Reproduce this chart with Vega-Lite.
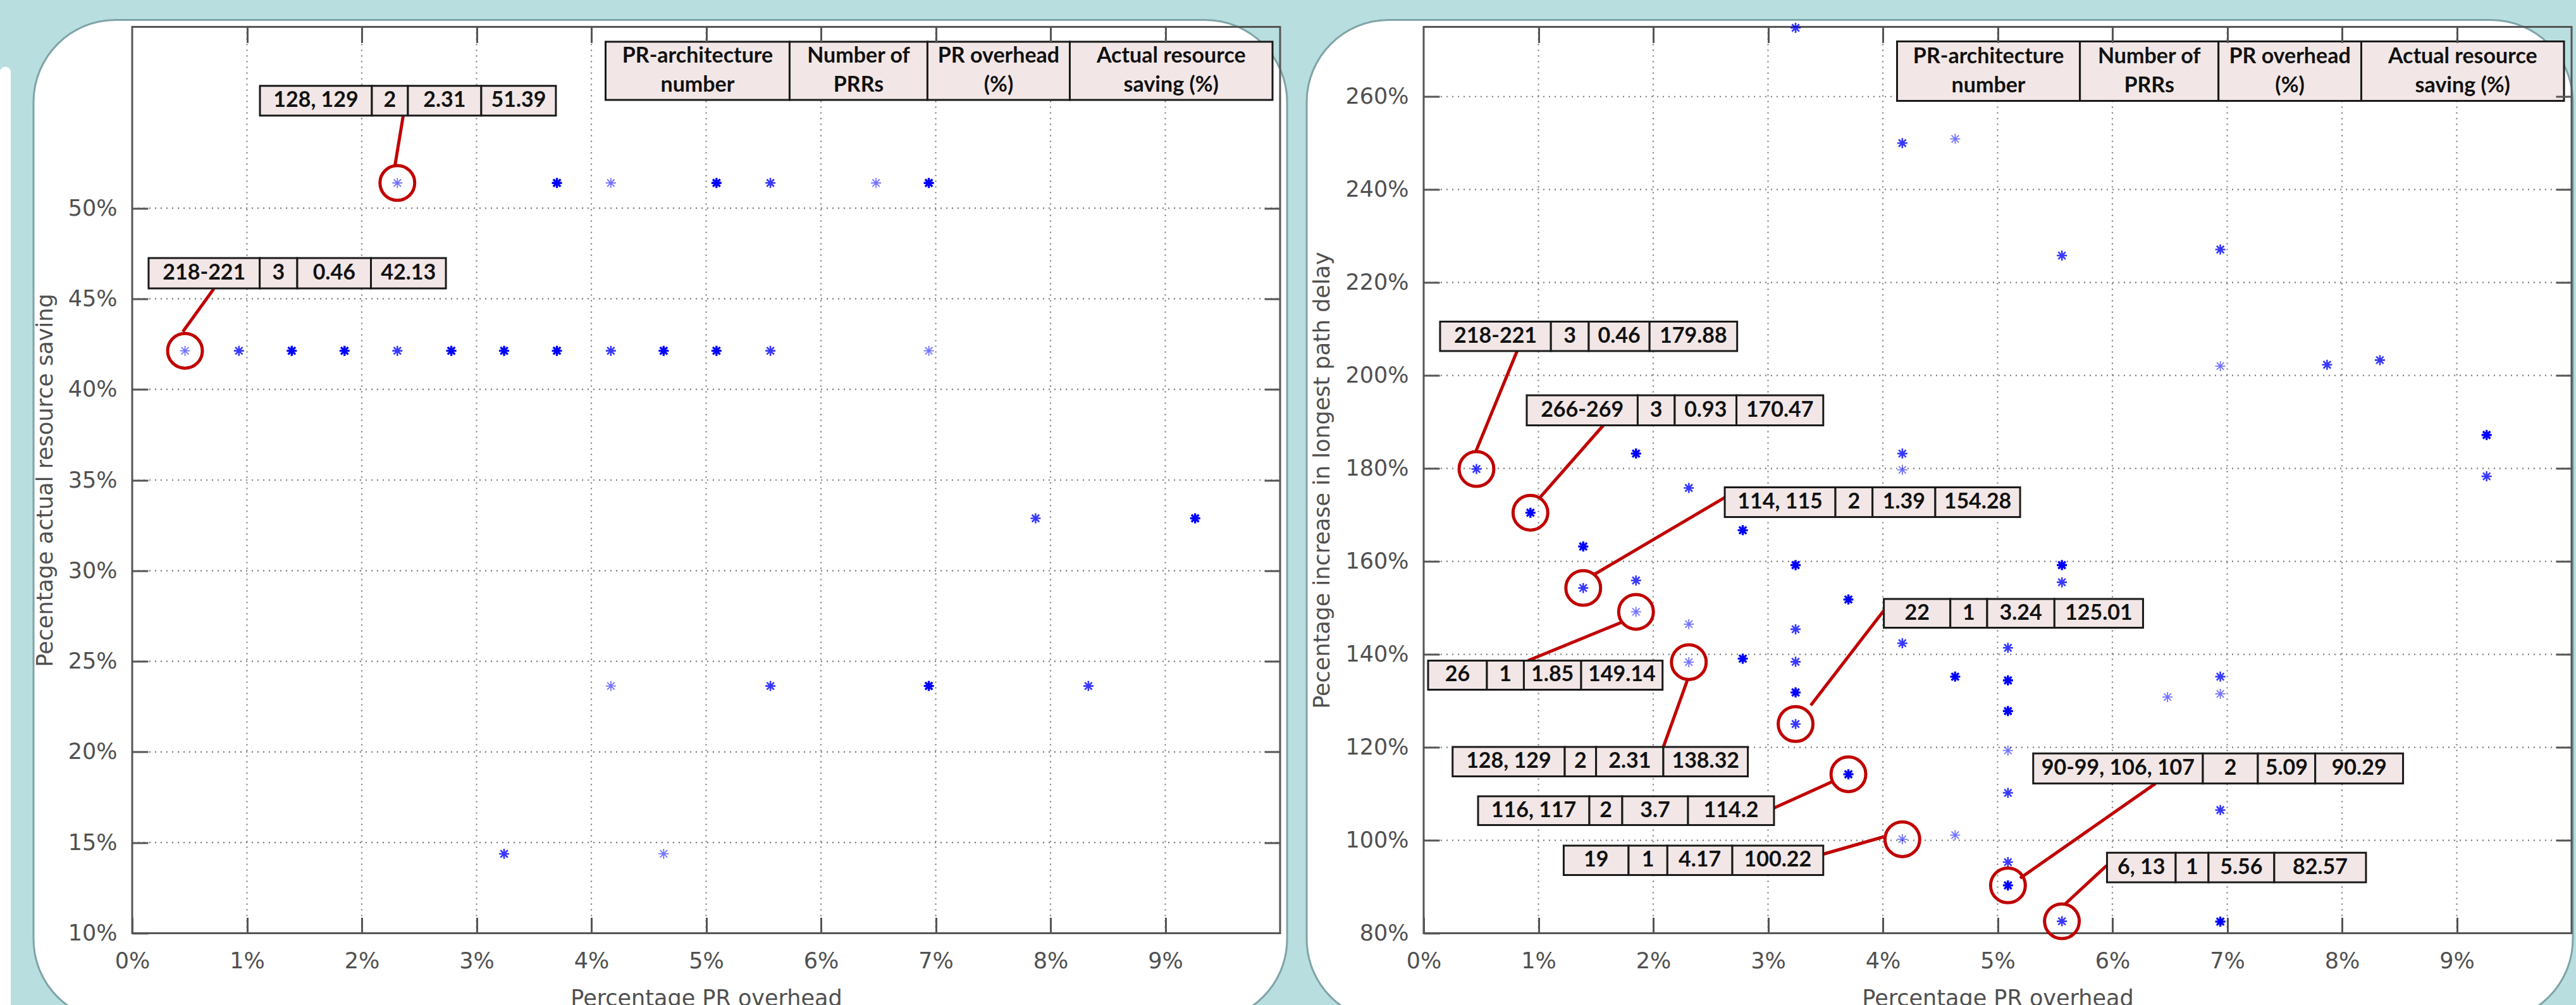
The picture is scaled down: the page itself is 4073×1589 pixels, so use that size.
{
  "$schema": "https://vega.github.io/schema/vega-lite/v6.json",
  "background": "#b9dee0",
  "padding": {"left": 0, "top": 29.5, "right": 10, "bottom": 0},
  "bounds": "flush",
  "spacing": 227,
  "config": {
    "view": {"stroke": null},
    "axis": {
      "grid": false, "domain": false, "labelFlush": false, "labelOverlap": false,
      "labelFont": "DejaVu Sans", "labelFontSize": 35, "labelColor": "#505050",
      "titleFont": "DejaVu Sans", "titleFontSize": 35, "titleFontWeight": "normal", "titleColor": "#505050",
      "tickSize": -25, "tickWidth": 3, "tickColor": "#555555"
    },
    "axisBottom": {"labelPadding": 52, "titlePadding": 24},
    "axisLeft": {"labelPadding": 49, "titlePadding": 18},
    "axisTop": {"labelPadding": 0},
    "axisRight": {"labelPadding": 0}
  },
  "datasets": {
    "leftPts": [
      {"x": 2.31, "y": 51.39, "n": 1}, {"x": 3.70, "y": 51.39, "n": 3}, {"x": 4.17, "y": 51.39, "n": 1},
      {"x": 5.09, "y": 51.39, "n": 3}, {"x": 5.56, "y": 51.39, "n": 2}, {"x": 6.48, "y": 51.39, "n": 1},
      {"x": 6.94, "y": 51.39, "n": 3},
      {"x": 0.46, "y": 42.13, "n": 1}, {"x": 0.93, "y": 42.13, "n": 2}, {"x": 1.39, "y": 42.13, "n": 3},
      {"x": 1.85, "y": 42.13, "n": 3}, {"x": 2.31, "y": 42.13, "n": 2}, {"x": 2.78, "y": 42.13, "n": 3},
      {"x": 3.24, "y": 42.13, "n": 3}, {"x": 3.70, "y": 42.13, "n": 3}, {"x": 4.17, "y": 42.13, "n": 2},
      {"x": 4.63, "y": 42.13, "n": 3}, {"x": 5.09, "y": 42.13, "n": 3}, {"x": 5.56, "y": 42.13, "n": 2},
      {"x": 6.94, "y": 42.13, "n": 1},
      {"x": 7.87, "y": 32.89, "n": 2}, {"x": 9.26, "y": 32.89, "n": 3},
      {"x": 4.17, "y": 23.64, "n": 1}, {"x": 5.56, "y": 23.64, "n": 2}, {"x": 6.94, "y": 23.64, "n": 3},
      {"x": 8.33, "y": 23.64, "n": 2},
      {"x": 3.24, "y": 14.38, "n": 2}, {"x": 4.63, "y": 14.38, "n": 1}
    ],
    "rightPts": [
      {"x": 3.24, "y": 274.8, "n": 2}, {"x": 4.17, "y": 250.0, "n": 2}, {"x": 4.63, "y": 250.9, "n": 1},
      {"x": 5.56, "y": 225.8, "n": 2}, {"x": 6.94, "y": 227.1, "n": 2}, {"x": 6.94, "y": 202.0, "n": 1},
      {"x": 7.87, "y": 202.3, "n": 2}, {"x": 8.33, "y": 203.3, "n": 2}, {"x": 9.26, "y": 187.2, "n": 3},
      {"x": 9.26, "y": 178.3, "n": 2}, {"x": 0.46, "y": 179.88, "n": 2}, {"x": 0.93, "y": 170.47, "n": 3},
      {"x": 1.85, "y": 183.2, "n": 3}, {"x": 2.31, "y": 175.8, "n": 2}, {"x": 1.39, "y": 163.2, "n": 3},
      {"x": 1.39, "y": 154.28, "n": 2}, {"x": 2.78, "y": 166.7, "n": 3}, {"x": 3.24, "y": 159.2, "n": 3},
      {"x": 1.85, "y": 155.9, "n": 2}, {"x": 1.85, "y": 149.14, "n": 1}, {"x": 2.31, "y": 146.5, "n": 1},
      {"x": 2.31, "y": 138.32, "n": 1}, {"x": 2.78, "y": 139.07, "n": 3}, {"x": 3.24, "y": 145.4, "n": 2},
      {"x": 3.24, "y": 138.4, "n": 2}, {"x": 3.24, "y": 131.8, "n": 3}, {"x": 3.24, "y": 125.01, "n": 2},
      {"x": 3.70, "y": 151.8, "n": 3}, {"x": 3.70, "y": 114.2, "n": 3}, {"x": 4.17, "y": 183.2, "n": 2},
      {"x": 4.17, "y": 179.7, "n": 1}, {"x": 4.17, "y": 142.4, "n": 2}, {"x": 4.17, "y": 100.22, "n": 1},
      {"x": 4.63, "y": 135.2, "n": 3}, {"x": 4.63, "y": 101.1, "n": 1}, {"x": 5.56, "y": 159.2, "n": 3},
      {"x": 5.56, "y": 155.5, "n": 2}, {"x": 5.56, "y": 82.57, "n": 2}, {"x": 5.09, "y": 141.4, "n": 2},
      {"x": 5.09, "y": 134.4, "n": 3}, {"x": 5.09, "y": 127.8, "n": 3}, {"x": 5.09, "y": 119.3, "n": 1},
      {"x": 5.09, "y": 110.2, "n": 2}, {"x": 5.09, "y": 95.3, "n": 2}, {"x": 5.09, "y": 90.29, "n": 3},
      {"x": 6.48, "y": 130.8, "n": 1}, {"x": 6.94, "y": 135.2, "n": 2}, {"x": 6.94, "y": 131.5, "n": 1},
      {"x": 6.94, "y": 106.5, "n": 2}, {"x": 6.94, "y": 82.5, "n": 3}
    ],
    "leftCallouts": [
      {"x": 2.31, "y": 51.39, "ax": 2.361, "ay": 55.10, "bx": 2.289, "by": 52.34},
      {"x": 0.46, "y": 42.13, "ax": 0.711, "ay": 45.55, "bx": 0.441, "by": 43.18}
    ],
    "rightCallouts": [
      {"x": 0.46, "y": 179.88, "ax": 0.815, "ay": 205.32, "bx": 0.452, "by": 183.5},
      {"x": 0.93, "y": 170.47, "ax": 1.565, "ay": 189.27, "bx": 1.0165, "by": 173.84},
      {"x": 1.39, "y": 154.28, "ax": 2.623, "ay": 173.75, "bx": 1.493, "by": 157.29},
      {"x": 1.85, "y": 149.14, "ax": 0.909, "ay": 138.65, "bx": 1.730, "by": 146.95},
      {"x": 2.31, "y": 138.32, "ax": 2.088, "ay": 120.06, "bx": 2.303, "by": 134.84},
      {"x": 3.24, "y": 125.01, "ax": 4.009, "ay": 149.44, "bx": 3.372, "by": 129.03},
      {"x": 3.70, "y": 114.2, "ax": 3.052, "ay": 106.94, "bx": 3.5526, "by": 112.52},
      {"x": 4.17, "y": 100.22, "ax": 3.481, "ay": 97.01, "bx": 4.009, "by": 100.75},
      {"x": 5.09, "y": 90.29, "ax": 6.375, "ay": 112.20, "bx": 5.196, "by": 91.84},
      {"x": 5.56, "y": 82.57, "ax": 5.950, "ay": 94.56, "bx": 5.587, "by": 86.26}
    ],
    "leftCells": [
      {"t": "PR-architecture\nnumber", "x0": 4.124, "x1": 5.727, "y0": 59.18, "y1": 55.97, "xm": 4.9255, "ym": 57.575},
      {"t": "Number of\nPRRs", "x0": 5.727, "x1": 6.928, "y0": 59.18, "y1": 55.97, "xm": 6.3275, "ym": 57.575},
      {"t": "PR overhead\n(%)", "x0": 6.928, "x1": 8.168, "y0": 59.18, "y1": 55.97, "xm": 7.548, "ym": 57.575},
      {"t": "Actual resource\nsaving (%)", "x0": 8.168, "x1": 9.934, "y0": 59.18, "y1": 55.97, "xm": 9.051, "ym": 57.575},
      {"t": "128, 129", "x0": 1.113, "x1": 2.088, "y0": 56.75, "y1": 55.11, "xm": 1.6005, "ym": 55.93},
      {"t": "2", "x0": 2.088, "x1": 2.402, "y0": 56.75, "y1": 55.11, "xm": 2.245, "ym": 55.93},
      {"t": "2.31", "x0": 2.402, "x1": 3.041, "y0": 56.75, "y1": 55.11, "xm": 2.7215, "ym": 55.93},
      {"t": "51.39", "x0": 3.041, "x1": 3.691, "y0": 56.75, "y1": 55.11, "xm": 3.366, "ym": 55.93},
      {"t": "218-221", "x0": 0.143, "x1": 1.111, "y0": 47.25, "y1": 45.57, "xm": 0.627, "ym": 46.41},
      {"t": "3", "x0": 1.111, "x1": 1.438, "y0": 47.25, "y1": 45.57, "xm": 1.2745, "ym": 46.41},
      {"t": "0.46", "x0": 1.438, "x1": 2.080, "y0": 47.25, "y1": 45.57, "xm": 1.759, "ym": 46.41},
      {"t": "42.13", "x0": 2.080, "x1": 2.733, "y0": 47.25, "y1": 45.57, "xm": 2.4065, "ym": 46.41}
    ],
    "rightCells": [
      {"t": "PR-architecture\nnumber", "x0": 4.124, "x1": 5.717, "y0": 271.86, "y1": 259.07, "xm": 4.9205, "ym": 265.465},
      {"t": "Number of\nPRRs", "x0": 5.717, "x1": 6.924, "y0": 271.86, "y1": 259.07, "xm": 6.3205, "ym": 265.465},
      {"t": "PR overhead\n(%)", "x0": 6.924, "x1": 8.168, "y0": 271.86, "y1": 259.07, "xm": 7.546, "ym": 265.465},
      {"t": "Actual resource\nsaving (%)", "x0": 8.168, "x1": 9.934, "y0": 271.86, "y1": 259.07, "xm": 9.051, "ym": 265.465},
      {"t": "218-221", "x0": 0.143, "x1": 1.1085, "y0": 211.58, "y1": 205.26, "xm": 0.6258, "ym": 208.42},
      {"t": "3", "x0": 1.1085, "x1": 1.438, "y0": 211.58, "y1": 205.26, "xm": 1.2733, "ym": 208.42},
      {"t": "0.46", "x0": 1.438, "x1": 1.968, "y0": 211.58, "y1": 205.26, "xm": 1.703, "ym": 208.42},
      {"t": "179.88", "x0": 1.968, "x1": 2.731, "y0": 211.58, "y1": 205.26, "xm": 2.3495, "ym": 208.42},
      {"t": "266-269", "x0": 0.898, "x1": 1.8645, "y0": 195.73, "y1": 189.27, "xm": 1.381, "ym": 192.5},
      {"t": "3", "x0": 1.8645, "x1": 2.187, "y0": 195.73, "y1": 189.27, "xm": 2.026, "ym": 192.5},
      {"t": "0.93", "x0": 2.187, "x1": 2.725, "y0": 195.73, "y1": 189.27, "xm": 2.456, "ym": 192.5},
      {"t": "170.47", "x0": 2.725, "x1": 3.481, "y0": 195.73, "y1": 189.27, "xm": 3.103, "ym": 192.5},
      {"t": "114, 115", "x0": 2.623, "x1": 3.587, "y0": 175.93, "y1": 169.54, "xm": 3.105, "ym": 172.735},
      {"t": "2", "x0": 3.587, "x1": 3.910, "y0": 175.93, "y1": 169.54, "xm": 3.7485, "ym": 172.735},
      {"t": "1.39", "x0": 3.910, "x1": 4.457, "y0": 175.93, "y1": 169.54, "xm": 4.1835, "ym": 172.735},
      {"t": "154.28", "x0": 4.457, "x1": 5.196, "y0": 175.93, "y1": 169.54, "xm": 4.8265, "ym": 172.735},
      {"t": "26", "x0": 0.0386, "x1": 0.551, "y0": 138.65, "y1": 132.39, "xm": 0.2948, "ym": 135.52},
      {"t": "1", "x0": 0.551, "x1": 0.873, "y0": 138.65, "y1": 132.39, "xm": 0.712, "ym": 135.52},
      {"t": "1.85", "x0": 0.873, "x1": 1.372, "y0": 138.65, "y1": 132.39, "xm": 1.1225, "ym": 135.52},
      {"t": "149.14", "x0": 1.372, "x1": 2.081, "y0": 138.65, "y1": 132.39, "xm": 1.7265, "ym": 135.52},
      {"t": "128, 129", "x0": 0.252, "x1": 1.229, "y0": 120.06, "y1": 113.75, "xm": 0.7405, "ym": 116.905},
      {"t": "2", "x0": 1.229, "x1": 1.502, "y0": 120.06, "y1": 113.75, "xm": 1.3655, "ym": 116.905},
      {"t": "2.31", "x0": 1.502, "x1": 2.088, "y0": 120.06, "y1": 113.75, "xm": 1.795, "ym": 116.905},
      {"t": "138.32", "x0": 2.088, "x1": 2.824, "y0": 120.06, "y1": 113.75, "xm": 2.456, "ym": 116.905},
      {"t": "22", "x0": 4.009, "x1": 4.588, "y0": 151.92, "y1": 145.72, "xm": 4.2985, "ym": 148.82},
      {"t": "1", "x0": 4.588, "x1": 4.909, "y0": 151.92, "y1": 145.72, "xm": 4.7485, "ym": 148.82},
      {"t": "3.24", "x0": 4.909, "x1": 5.495, "y0": 151.92, "y1": 145.72, "xm": 5.202, "ym": 148.82},
      {"t": "125.01", "x0": 5.495, "x1": 6.267, "y0": 151.92, "y1": 145.72, "xm": 5.881, "ym": 148.82},
      {"t": "116, 117", "x0": 0.474, "x1": 1.4435, "y0": 109.45, "y1": 103.27, "xm": 0.9588, "ym": 106.36},
      {"t": "2", "x0": 1.4435, "x1": 1.730, "y0": 109.45, "y1": 103.27, "xm": 1.5868, "ym": 106.36},
      {"t": "3.7", "x0": 1.730, "x1": 2.303, "y0": 109.45, "y1": 103.27, "xm": 2.0165, "ym": 106.36},
      {"t": "114.2", "x0": 2.303, "x1": 3.052, "y0": 109.45, "y1": 103.27, "xm": 2.6775, "ym": 106.36},
      {"t": "19", "x0": 1.220, "x1": 1.785, "y0": 98.85, "y1": 92.52, "xm": 1.5025, "ym": 95.685},
      {"t": "1", "x0": 1.785, "x1": 2.123, "y0": 98.85, "y1": 92.52, "xm": 1.954, "ym": 95.685},
      {"t": "4.17", "x0": 2.123, "x1": 2.689, "y0": 98.85, "y1": 92.52, "xm": 2.406, "ym": 95.685},
      {"t": "100.22", "x0": 2.689, "x1": 3.481, "y0": 98.85, "y1": 92.52, "xm": 3.085, "ym": 95.685},
      {"t": "90-99, 106, 107", "x0": 5.310, "x1": 6.788, "y0": 118.69, "y1": 112.20, "xm": 6.049, "ym": 115.445},
      {"t": "2", "x0": 6.788, "x1": 7.267, "y0": 118.69, "y1": 112.20, "xm": 7.0275, "ym": 115.445},
      {"t": "5.09", "x0": 7.267, "x1": 7.767, "y0": 118.69, "y1": 112.20, "xm": 7.517, "ym": 115.445},
      {"t": "90.29", "x0": 7.767, "x1": 8.532, "y0": 118.69, "y1": 112.20, "xm": 8.1495, "ym": 115.445},
      {"t": "6, 13", "x0": 5.953, "x1": 6.551, "y0": 97.31, "y1": 90.97, "xm": 6.252, "ym": 94.14},
      {"t": "1", "x0": 6.551, "x1": 6.837, "y0": 97.31, "y1": 90.97, "xm": 6.694, "ym": 94.14},
      {"t": "5.56", "x0": 6.837, "x1": 7.410, "y0": 97.31, "y1": 90.97, "xm": 7.1235, "ym": 94.14},
      {"t": "82.57", "x0": 7.410, "x1": 8.209, "y0": 97.31, "y1": 90.97, "xm": 7.8095, "ym": 94.14}
    ]
  },
  "hconcat": [
    {
      "width": 1815,
      "height": 1433,
      "resolve": {"axis": {"x": "independent", "y": "independent"}},
      "layer": [
        {
          "data": {"values": [{"part": "sliver"}]},
          "mark": {"type": "rect", "fill": "#ffffff", "cornerRadius": 10},
          "encoding": {
            "x": {"datum": -1.1515, "type": "quantitative", "scale": {"domain": [0, 10], "nice": false, "zero": false}, "axis": null},
            "x2": {"datum": -1.058},
            "y": {"datum": 57.8, "type": "quantitative", "scale": {"domain": [10, 60], "nice": false, "zero": false}, "axis": null},
            "y2": {"datum": 5.15}
          }
        },
        {
          "data": {"values": [{"part": "panel"}]},
          "mark": {"type": "rect", "fill": "#ffffff", "stroke": "#7fa4a8", "strokeWidth": 3, "cornerRadius": 130},
          "encoding": {
            "x": {"datum": -0.8595, "type": "quantitative", "scale": {"domain": [0, 10], "nice": false, "zero": false}, "axis": null},
            "x2": {"datum": 10.061},
            "y": {"datum": 60.384, "type": "quantitative", "scale": {"domain": [10, 60], "nice": false, "zero": false}, "axis": null},
            "y2": {"datum": 5.15}
          }
        },
        {
          "data": {"values": [{"g": 1}, {"g": 2}, {"g": 3}, {"g": 4}, {"g": 5}, {"g": 6}, {"g": 7}, {"g": 8}, {"g": 9}]},
          "mark": {"type": "rule", "stroke": "#7a7a7a", "strokeWidth": 2.2, "strokeDash": [2, 7]},
          "encoding": {
            "x": {"field": "g", "type": "quantitative", "scale": {"domain": [0, 10], "nice": false, "zero": false}, "axis": null},
            "y": {"datum": 10, "type": "quantitative", "scale": {"domain": [10, 60], "nice": false, "zero": false}, "axis": null},
            "y2": {"datum": 60}
          }
        },
        {
          "data": {"values": [{"g": 15}, {"g": 20}, {"g": 25}, {"g": 30}, {"g": 35}, {"g": 40}, {"g": 45}, {"g": 50}]},
          "mark": {"type": "rule", "stroke": "#7a7a7a", "strokeWidth": 2.2, "strokeDash": [2, 7]},
          "encoding": {
            "y": {"field": "g", "type": "quantitative", "scale": {"domain": [10, 60], "nice": false, "zero": false}, "axis": null},
            "x": {"datum": 0, "type": "quantitative", "scale": {"domain": [0, 10], "nice": false, "zero": false}, "axis": null},
            "x2": {"datum": 10}
          }
        },
        {
          "data": {"values": [{"part": "frame"}]},
          "mark": {"type": "rect", "fillOpacity": 0, "stroke": "#555555", "strokeWidth": 3},
          "encoding": {
            "x": {"datum": 0, "type": "quantitative", "scale": {"domain": [0, 10], "nice": false, "zero": false},
                  "axis": {"orient": "top", "zindex": 2, "values": [1, 2, 3, 4, 5, 6, 7, 8, 9], "labels": false, "title": null}},
            "x2": {"datum": 10},
            "y": {"datum": 10, "type": "quantitative", "scale": {"domain": [10, 60], "nice": false, "zero": false},
                  "axis": {"orient": "right", "zindex": 2, "values": [15, 20, 25, 30, 35, 40, 45, 50], "labels": false, "title": null}},
            "y2": {"datum": 60}
          }
        },
        {
          "data": {"name": "leftPts"},
          "mark": {"type": "point", "shape": "M-1,0L1,0M0,-1L0,1M-0.72,-0.72L0.72,0.72M-0.72,0.72L0.72,-0.72", "size": 256, "filled": false, "color": "#0000ff"},
          "encoding": {
            "x": {"field": "x", "type": "quantitative", "scale": {"domain": [0, 10], "nice": false, "zero": false},
                  "axis": {"orient": "bottom", "zindex": 2, "values": [0, 1, 2, 3, 4, 5, 6, 7, 8, 9], "labelExpr": "datum.value + '%'", "title": "Percentage PR overhead"}},
            "y": {"field": "y", "type": "quantitative", "scale": {"domain": [10, 60], "nice": false, "zero": false},
                  "axis": {"orient": "left", "zindex": 2, "values": [10, 15, 20, 25, 30, 35, 40, 45, 50], "labelExpr": "datum.value + '%'", "title": "Pecentage actual resource saving"}},
            "strokeWidth": {"field": "n", "type": "quantitative", "scale": {"domain": [1, 3], "range": [1.8, 3.4]}, "legend": null},
            "opacity": {"field": "n", "type": "quantitative", "scale": {"domain": [1, 3], "range": [0.55, 1]}, "legend": null}
          }
        },
        {
          "data": {"name": "leftCallouts"},
          "mark": {"type": "rule", "stroke": "#c00000", "strokeWidth": 5},
          "encoding": {
            "x": {"field": "ax", "type": "quantitative", "scale": {"domain": [0, 10], "nice": false, "zero": false}, "axis": null},
            "y": {"field": "ay", "type": "quantitative", "scale": {"domain": [10, 60], "nice": false, "zero": false}, "axis": null},
            "x2": {"field": "bx"},
            "y2": {"field": "by"}
          }
        },
        {
          "data": {"name": "leftCallouts"},
          "mark": {"type": "point", "shape": "circle", "size": 3019, "filled": false, "stroke": "#c00000", "strokeWidth": 5, "opacity": 1},
          "encoding": {
            "x": {"field": "x", "type": "quantitative", "scale": {"domain": [0, 10], "nice": false, "zero": false}, "axis": null},
            "y": {"field": "y", "type": "quantitative", "scale": {"domain": [10, 60], "nice": false, "zero": false}, "axis": null}
          }
        },
        {
          "data": {"name": "leftCells"},
          "mark": {"type": "rect", "fill": "#f2e7e6", "stroke": "#1a1a1a", "strokeWidth": 3},
          "encoding": {
            "x": {"field": "x0", "type": "quantitative", "scale": {"domain": [0, 10], "nice": false, "zero": false}, "axis": null},
            "x2": {"field": "x1"},
            "y": {"field": "y0", "type": "quantitative", "scale": {"domain": [10, 60], "nice": false, "zero": false}, "axis": null},
            "y2": {"field": "y1"}
          }
        },
        {
          "data": {"name": "leftCells"},
          "transform": [{"filter": "indexof(datum.t, '\\n') < 0"}],
          "mark": {"type": "text", "font": "Lato", "fontWeight": "bold", "fontSize": 34, "color": "#111111", "align": "center", "baseline": "middle"},
          "encoding": {
            "x": {"field": "xm", "type": "quantitative", "scale": {"domain": [0, 10], "nice": false, "zero": false}, "axis": null},
            "y": {"field": "ym", "type": "quantitative", "scale": {"domain": [10, 60], "nice": false, "zero": false}, "axis": null},
            "text": {"field": "t", "type": "nominal"}
          }
        },
        {
          "data": {"name": "leftCells"},
          "transform": [{"filter": "indexof(datum.t, '\\n') >= 0"}],
          "mark": {"type": "text", "font": "Lato", "fontWeight": "bold", "fontSize": 34, "color": "#111111", "align": "center", "baseline": "middle", "lineBreak": "\n", "lineHeight": 46, "dy": -23},
          "encoding": {
            "x": {"field": "xm", "type": "quantitative", "scale": {"domain": [0, 10], "nice": false, "zero": false}, "axis": null},
            "y": {"field": "ym", "type": "quantitative", "scale": {"domain": [10, 60], "nice": false, "zero": false}, "axis": null},
            "text": {"field": "t", "type": "nominal"}
          }
        }
      ]
    },
    {
      "width": 1815,
      "height": 1433,
      "resolve": {"axis": {"x": "independent", "y": "independent"}},
      "layer": [
        {
          "data": {"values": [{"part": "panel"}]},
          "mark": {"type": "rect", "fill": "#ffffff", "stroke": "#7fa4a8", "strokeWidth": 3, "cornerRadius": 130},
          "encoding": {
            "x": {"datum": -1.019, "type": "quantitative", "scale": {"domain": [0, 10], "nice": false, "zero": false}, "axis": null},
            "x2": {"datum": 10.011},
            "y": {"datum": 276.5, "type": "quantitative", "scale": {"domain": [80, 275], "nice": false, "zero": false}, "axis": null},
            "y2": {"datum": 61.09}
          }
        },
        {
          "data": {"values": [{"g": 1}, {"g": 2}, {"g": 3}, {"g": 4}, {"g": 5}, {"g": 6}, {"g": 7}, {"g": 8}, {"g": 9}]},
          "mark": {"type": "rule", "stroke": "#7a7a7a", "strokeWidth": 2.2, "strokeDash": [2, 7]},
          "encoding": {
            "x": {"field": "g", "type": "quantitative", "scale": {"domain": [0, 10], "nice": false, "zero": false}, "axis": null},
            "y": {"datum": 80, "type": "quantitative", "scale": {"domain": [80, 275], "nice": false, "zero": false}, "axis": null},
            "y2": {"datum": 275}
          }
        },
        {
          "data": {"values": [{"g": 100}, {"g": 120}, {"g": 140}, {"g": 160}, {"g": 180}, {"g": 200}, {"g": 220}, {"g": 240}, {"g": 260}]},
          "mark": {"type": "rule", "stroke": "#7a7a7a", "strokeWidth": 2.2, "strokeDash": [2, 7]},
          "encoding": {
            "y": {"field": "g", "type": "quantitative", "scale": {"domain": [80, 275], "nice": false, "zero": false}, "axis": null},
            "x": {"datum": 0, "type": "quantitative", "scale": {"domain": [0, 10], "nice": false, "zero": false}, "axis": null},
            "x2": {"datum": 10}
          }
        },
        {
          "data": {"values": [{"part": "frame"}]},
          "mark": {"type": "rect", "fillOpacity": 0, "stroke": "#555555", "strokeWidth": 3},
          "encoding": {
            "x": {"datum": 0, "type": "quantitative", "scale": {"domain": [0, 10], "nice": false, "zero": false},
                  "axis": {"orient": "top", "zindex": 2, "values": [1, 2, 3, 4, 5, 6, 7, 8, 9], "labels": false, "title": null}},
            "x2": {"datum": 10},
            "y": {"datum": 80, "type": "quantitative", "scale": {"domain": [80, 275], "nice": false, "zero": false},
                  "axis": {"orient": "right", "zindex": 2, "values": [100, 120, 140, 160, 180, 200, 220, 240, 260], "labels": false, "title": null}},
            "y2": {"datum": 275}
          }
        },
        {
          "data": {"name": "rightPts"},
          "mark": {"type": "point", "shape": "M-1,0L1,0M0,-1L0,1M-0.72,-0.72L0.72,0.72M-0.72,0.72L0.72,-0.72", "size": 256, "filled": false, "color": "#0000ff"},
          "encoding": {
            "x": {"field": "x", "type": "quantitative", "scale": {"domain": [0, 10], "nice": false, "zero": false},
                  "axis": {"orient": "bottom", "zindex": 2, "values": [0, 1, 2, 3, 4, 5, 6, 7, 8, 9], "labelExpr": "datum.value + '%'", "title": "Percentage PR overhead"}},
            "y": {"field": "y", "type": "quantitative", "scale": {"domain": [80, 275], "nice": false, "zero": false},
                  "axis": {"orient": "left", "zindex": 2, "values": [80, 100, 120, 140, 160, 180, 200, 220, 240, 260], "labelExpr": "datum.value + '%'", "title": "Pecentage increase in longest path delay"}},
            "strokeWidth": {"field": "n", "type": "quantitative", "scale": {"domain": [1, 3], "range": [1.8, 3.4]}, "legend": null},
            "opacity": {"field": "n", "type": "quantitative", "scale": {"domain": [1, 3], "range": [0.55, 1]}, "legend": null}
          }
        },
        {
          "data": {"name": "rightCallouts"},
          "mark": {"type": "rule", "stroke": "#c00000", "strokeWidth": 5},
          "encoding": {
            "x": {"field": "ax", "type": "quantitative", "scale": {"domain": [0, 10], "nice": false, "zero": false}, "axis": null},
            "y": {"field": "ay", "type": "quantitative", "scale": {"domain": [80, 275], "nice": false, "zero": false}, "axis": null},
            "x2": {"field": "bx"},
            "y2": {"field": "by"}
          }
        },
        {
          "data": {"name": "rightCallouts"},
          "mark": {"type": "point", "shape": "circle", "size": 3019, "filled": false, "stroke": "#c00000", "strokeWidth": 5, "opacity": 1},
          "encoding": {
            "x": {"field": "x", "type": "quantitative", "scale": {"domain": [0, 10], "nice": false, "zero": false}, "axis": null},
            "y": {"field": "y", "type": "quantitative", "scale": {"domain": [80, 275], "nice": false, "zero": false}, "axis": null}
          }
        },
        {
          "data": {"name": "rightCells"},
          "mark": {"type": "rect", "fill": "#f2e7e6", "stroke": "#1a1a1a", "strokeWidth": 3},
          "encoding": {
            "x": {"field": "x0", "type": "quantitative", "scale": {"domain": [0, 10], "nice": false, "zero": false}, "axis": null},
            "x2": {"field": "x1"},
            "y": {"field": "y0", "type": "quantitative", "scale": {"domain": [80, 275], "nice": false, "zero": false}, "axis": null},
            "y2": {"field": "y1"}
          }
        },
        {
          "data": {"name": "rightCells"},
          "transform": [{"filter": "indexof(datum.t, '\\n') < 0"}],
          "mark": {"type": "text", "font": "Lato", "fontWeight": "bold", "fontSize": 34, "color": "#111111", "align": "center", "baseline": "middle"},
          "encoding": {
            "x": {"field": "xm", "type": "quantitative", "scale": {"domain": [0, 10], "nice": false, "zero": false}, "axis": null},
            "y": {"field": "ym", "type": "quantitative", "scale": {"domain": [80, 275], "nice": false, "zero": false}, "axis": null},
            "text": {"field": "t", "type": "nominal"}
          }
        },
        {
          "data": {"name": "rightCells"},
          "transform": [{"filter": "indexof(datum.t, '\\n') >= 0"}],
          "mark": {"type": "text", "font": "Lato", "fontWeight": "bold", "fontSize": 34, "color": "#111111", "align": "center", "baseline": "middle", "lineBreak": "\n", "lineHeight": 46, "dy": -23},
          "encoding": {
            "x": {"field": "xm", "type": "quantitative", "scale": {"domain": [0, 10], "nice": false, "zero": false}, "axis": null},
            "y": {"field": "ym", "type": "quantitative", "scale": {"domain": [80, 275], "nice": false, "zero": false}, "axis": null},
            "text": {"field": "t", "type": "nominal"}
          }
        }
      ]
    }
  ]
}
